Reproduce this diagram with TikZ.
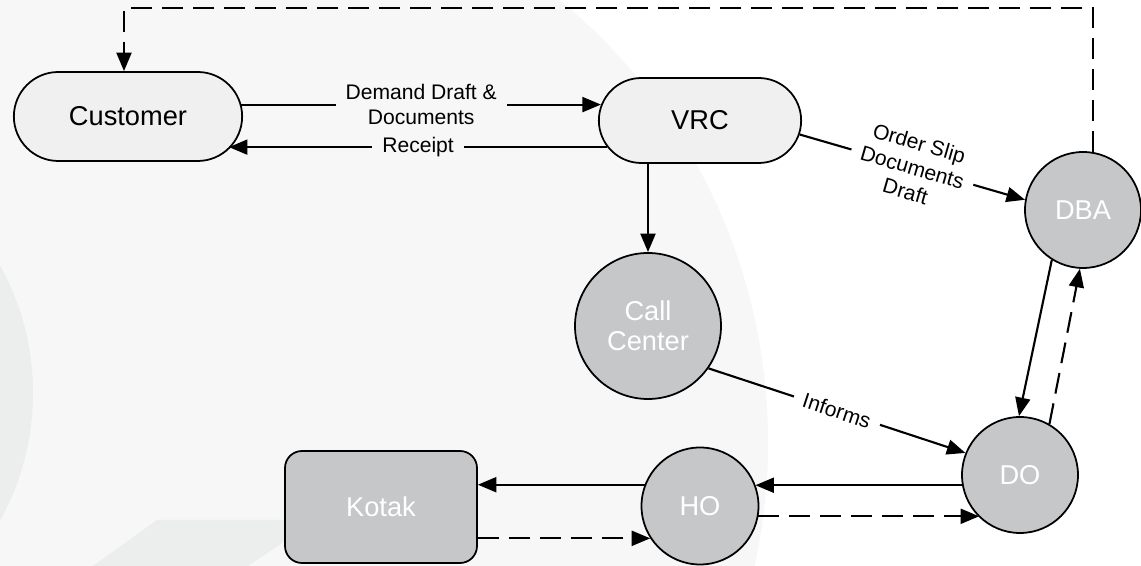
\documentclass[tikz,border=0pt]{standalone}
\usepackage{fontspec}
\setmainfont{Liberation Sans}
\usetikzlibrary{shapes.misc,arrows.meta}

\definecolor{procgray}{RGB}{198,199,201}
\definecolor{termgray}{RGB}{240,240,240}
\definecolor{bglight}{RGB}{247,247,247}
\definecolor{bgmark}{RGB}{236,237,237}

\tikzset{
  term/.style={rounded rectangle, draw, line width=1pt, fill=termgray,
    font=\fontsize{15.5}{18}\selectfont},
  proc/.style={circle, draw, line width=1pt, fill=procgray, text=white,
    align=center, inner sep=0pt, font=\fontsize{15.5}{17}\selectfont},
  bank/.style={rectangle, rounded corners=0.34cm, draw, line width=1pt,
    fill=procgray, text=white, font=\fontsize{15.5}{18}\selectfont},
  flow/.style={line width=1.2pt, -{Triangle[length=0.37cm,width=0.3cm]}},
  back/.style={flow, dash pattern=on 0.42cm off 0.2cm},
  lbl/.style={fill=bglight, inner xsep=0.2cm, inner ysep=1pt, align=center,
    font=\fontsize{12}{14.2}\selectfont},
}

\begin{document}
\begin{tikzpicture}
\useasboundingbox (0,0) rectangle (22.82,11.32);
% backdrop
\fill[white] (0,0) rectangle (22.82,11.32);
\begin{scope}
\clip (0,0) rectangle (22.82,11.32);
\fill[bglight] (3.9,2.48) circle (11.46);
\fill[bgmark] (-4.6,3.46) circle (5.26);
\fill[bgmark] (1.86,0) -- (3.14,0.92) -- (8.0,0.92) -- (8.0,0.5) -- (5.7,0.5) -- (4.96,0) -- cycle;
\end{scope}

% nodes
\node[term, minimum width=4.8cm, minimum height=1.78cm] (cust) at (2.56,8.99) {Customer};
\node[term, minimum width=4.28cm, minimum height=1.7cm] (vrc) at (14.0,8.91) {VRC};
\node[proc, minimum size=2.92cm] (call) at (12.96,4.8) {Call\\Center};
\node[proc, minimum size=2.32cm] (dba) at (21.66,7.12) {DBA};
\node[proc, minimum size=2.32cm] (DO) at (20.4,1.82) {DO};
\node[proc, minimum size=2.34cm] (HO) at (14.0,1.2) {HO};
\node[bank, minimum width=3.84cm, minimum height=2.24cm] (kotak) at (7.62,1.18) {Kotak};
\coordinate (top) at (0,11.16);

% solid flows
\draw[flow] (cust.6) -- (cust.6 -| vrc.171) node[lbl, midway] {Demand Draft \&\\Documents};
\draw[flow] (vrc.196) -- (vrc.196 -| cust.-18) node[lbl, midway] {Receipt};
\draw[flow] (vrc.south -| call.north) -- (call.north);
\draw[flow] (vrc.-8) -- (dba.170) node[lbl, fill=white, midway, sloped] {Order Slip\\Documents\\Draft};
\draw[flow] (call.-35) -- (DO.158) node[lbl, fill=white, midway, sloped] {Informs};
\draw[flow] (dba.238) -- (DO.91);
\draw[flow] (DO.190) -- (DO.190 -| HO.21);
\draw[flow] (HO.159) -- (HO.159 -| kotak.east);

% dashed returns
\draw[back] (DO.60) -- (dba.267);
\draw[back] (HO.-10) -- (HO.-10 -| DO.226);
\draw[back] (kotak.east |- HO.213) -- (HO.213);
\draw[back] (dba.80) -- (dba.80 |- top) -- ([xshift=-0.08cm]cust.north |- top) -- ([xshift=-0.08cm]cust.north);
\end{tikzpicture}
\end{document}
